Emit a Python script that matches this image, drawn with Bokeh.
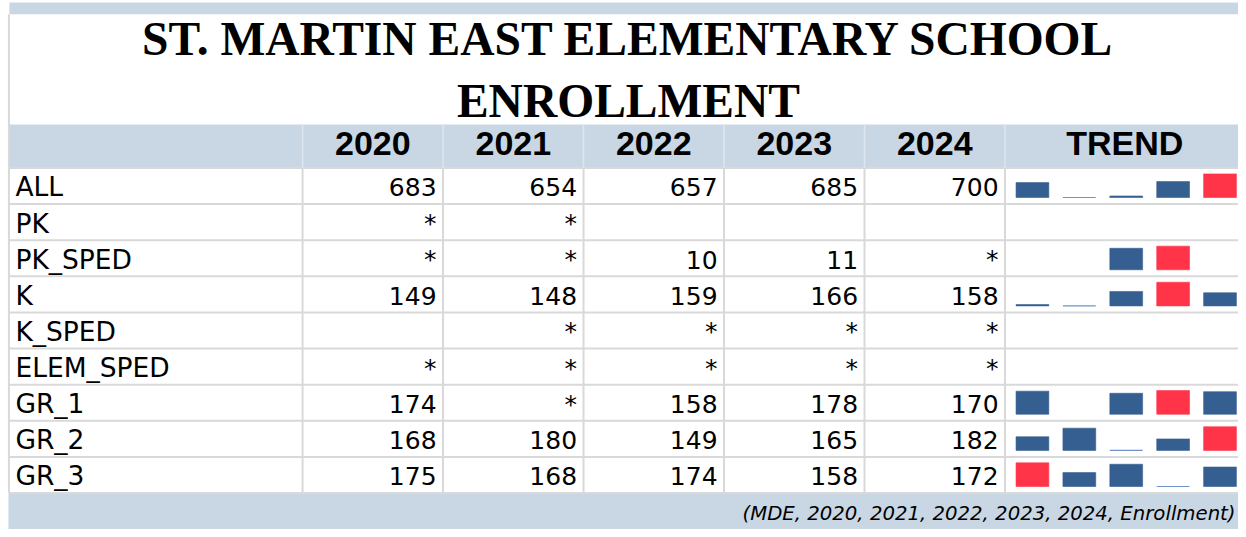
from bokeh.plotting import figure
from bokeh.models import Range1d, ColumnDataSource
from bokeh.core.properties import value
from bokeh.embed import file_html
from bokeh.resources import INLINE

# ---------------- data ----------------
title_lines = ["ST. MARTIN EAST ELEMENTARY SCHOOL", "ENROLLMENT"]
years = ["2020", "2021", "2022", "2023", "2024"]
categories = ["ALL", "PK", "PK_SPED", "K", "K_SPED", "ELEM_SPED", "GR_1", "GR_2", "GR_3"]
all_vals = [683, 654, 657, 685, 700]
pk_vals = ["*", "*", None, None, None]
pk_sped_vals = ["*", "*", 10, 11, "*"]
k_vals = [149, 148, 159, 166, 158]
k_sped_vals = [None, "*", "*", "*", "*"]
elem_sped_vals = ["*", "*", "*", "*", "*"]
gr_1_vals = [174, "*", 158, 178, 170]
gr_2_vals = [168, 180, 149, 165, 182]
gr_3_vals = [175, 168, 174, 158, 172]
trend_label = "TREND"
source_note = "(MDE, 2020, 2021, 2022, 2023, 2024, Enrollment)"

table = [all_vals, pk_vals, pk_sped_vals, k_vals, k_sped_vals,
         elem_sped_vals, gr_1_vals, gr_2_vals, gr_3_vals]

# ---------------- layout / style (reference pixel space) ----------------
REF_W, REF_H = 1246, 537
LEFT, RIGHT = 8, 1246
BAND = "#c9d7e4"
GRID = "#d9d9d9"
HEAD_SEP = "#dfe6ee"
BLUE = "#365f91"
RED = "#ff3448"
MINLINE = "#6f93c9"

HEAD_TOP, HEAD_BOT = 126, 169.5
ROW0 = 170.0
ROW_H = 36.67
LABEL_RIGHT = 304.0
COL_W = 141.4
TREND_L = LABEL_RIGHT + COL_W * len(years)
SLOT_W = 47.2
BAR_W = 33
BAR_H = 24
BASE_OFF = 30.0
BL = 0.38  # svg baseline correction (fraction of font size)


def by(baseline, fs):
    return baseline - BL * fs


p = figure(width=1238, height=529,
           x_range=Range1d(0, REF_W), y_range=Range1d(REF_H, 0),
           x_axis_type=None, y_axis_type=None,
           output_backend="svg", toolbar_location=None, min_border=0)
p.outline_line_color = None
p.background_fill_color = "white"
p.border_fill_color = "white"

# bands
p.quad(left=[9], right=[RIGHT], top=[2], bottom=[14], color=BAND, line_color=None)
p.quad(left=[LEFT], right=[RIGHT], top=[HEAD_TOP], bottom=[HEAD_BOT], color=BAND, line_color=None)
last_bottom = ROW0 + ROW_H * len(categories)
p.quad(left=[LEFT], right=[RIGHT], top=[last_bottom + 1], bottom=[REF_H], color=BAND, line_color=None)

# grid lines
hy = [ROW0 + ROW_H * i for i in range(len(categories) + 1)]
p.segment(x0=[LEFT] * len(hy), x1=[RIGHT] * len(hy), y0=hy, y1=hy, line_color=GRID, line_width=2)
vx = [LABEL_RIGHT + COL_W * j for j in range(len(years) + 1)]
p.segment(x0=vx, x1=vx, y0=[HEAD_TOP] * len(vx), y1=[HEAD_BOT] * len(vx), line_color=HEAD_SEP, line_width=1.5)
p.segment(x0=vx, x1=vx, y0=[ROW0] * len(vx), y1=[last_bottom] * len(vx), line_color=GRID, line_width=2)
p.segment(x0=[LEFT + 0.5], x1=[LEFT + 0.5], y0=[14], y1=[last_bottom], line_color=GRID, line_width=2)

# title
TFS = 47.5
p.text(x=[632, 632], y=[by(57, TFS), by(120, TFS)], text=title_lines, text_align="center",
       text_baseline="alphabetic", text_font=value("Liberation Serif"), text_font_style="bold",
       text_font_size="%spx" % TFS, text_color="black")

# header
HFS = 34
hx = [LABEL_RIGHT + COL_W * (j + 0.5) for j in range(len(years))] + [TREND_L + (RIGHT - TREND_L) / 2 + 3]
p.text(x=hx, y=[by(158, HFS)] * len(hx), text=years + [trend_label], text_align="center",
       text_baseline="alphabetic", text_font=value("Liberation Sans"), text_font_style="bold",
       text_font_size="%spx" % HFS, text_color="black")

# row labels
LFS = 26.5
ly = [by(ROW0 + ROW_H * i + 29.3, LFS) for i in range(len(categories))]
p.text(x=[15] * len(categories), y=ly, text=categories, text_align="left", text_baseline="alphabetic",
       text_font=value("DejaVu Sans"), text_font_size="%spx" % LFS, text_color="black")

# cell values
NFS = 25
cx, cy, ct = [], [], []
for i, row in enumerate(table):
    for j, v in enumerate(row):
        if v is None:
            continue
        cx.append(LABEL_RIGHT + COL_W * (j + 1) - 6.5)
        cy.append(by(ROW0 + ROW_H * i + 29.3, NFS))
        ct.append(str(v))
p.text(x=cx, y=cy, text=ct, text_align="right", text_baseline="alphabetic",
       text_font=value("DejaVu Sans"), text_font_size="%spx" % NFS, text_color="black")

# sparklines: one y range per row, mapping value -> position within the row
slot_x = [TREND_L + 4 + SLOT_W * (j + 0.5) for j in range(len(years))]
for i, row in enumerate(table):
    nums = [v for v in row if isinstance(v, (int, float))]
    if not nums:
        continue
    axis_vals = [v if isinstance(v, (int, float)) else 0 for v in row if v is not None]
    lo, hi = min(axis_vals), max(axis_vals)
    s = BAR_H / (hi - lo)
    base = ROW0 + ROW_H * i + BASE_OFF
    rname = "row%d" % i
    p.extra_y_ranges[rname] = Range1d(start=lo - (REF_H - base) / s, end=lo + base / s)
    bx, btop, bcol, mx = [], [], [], []
    for j, v in enumerate(row):
        if not isinstance(v, (int, float)):
            continue
        if v == lo:
            mx.append(slot_x[j])
        else:
            bx.append(slot_x[j])
            btop.append(v)
            bcol.append(RED if v == hi else BLUE)
    if bx:
        src = ColumnDataSource(dict(x=bx, top=btop, bottom=[lo] * len(bx), c=bcol))
        p.vbar(x="x", top="top", bottom="bottom", width=BAR_W, fill_color="c", line_color="c",
               line_alpha=0.6, line_width=1, source=src, y_range_name=rname)
    if mx:
        p.segment(x0=[x - BAR_W / 2 for x in mx], x1=[x + BAR_W / 2 for x in mx],
                  y0=[lo] * len(mx), y1=[lo] * len(mx), line_color=MINLINE, line_width=1.2,
                  y_range_name=rname)

# source note
SFS = 19.7
p.text(x=[1243], y=[by(528, SFS)], text=[source_note], text_align="right", text_baseline="alphabetic",
       text_font=value("DejaVu Sans"), text_font_style="italic", text_font_size="%spx" % SFS,
       text_color="black")

open("out.html", "w").write(file_html(p, INLINE))
